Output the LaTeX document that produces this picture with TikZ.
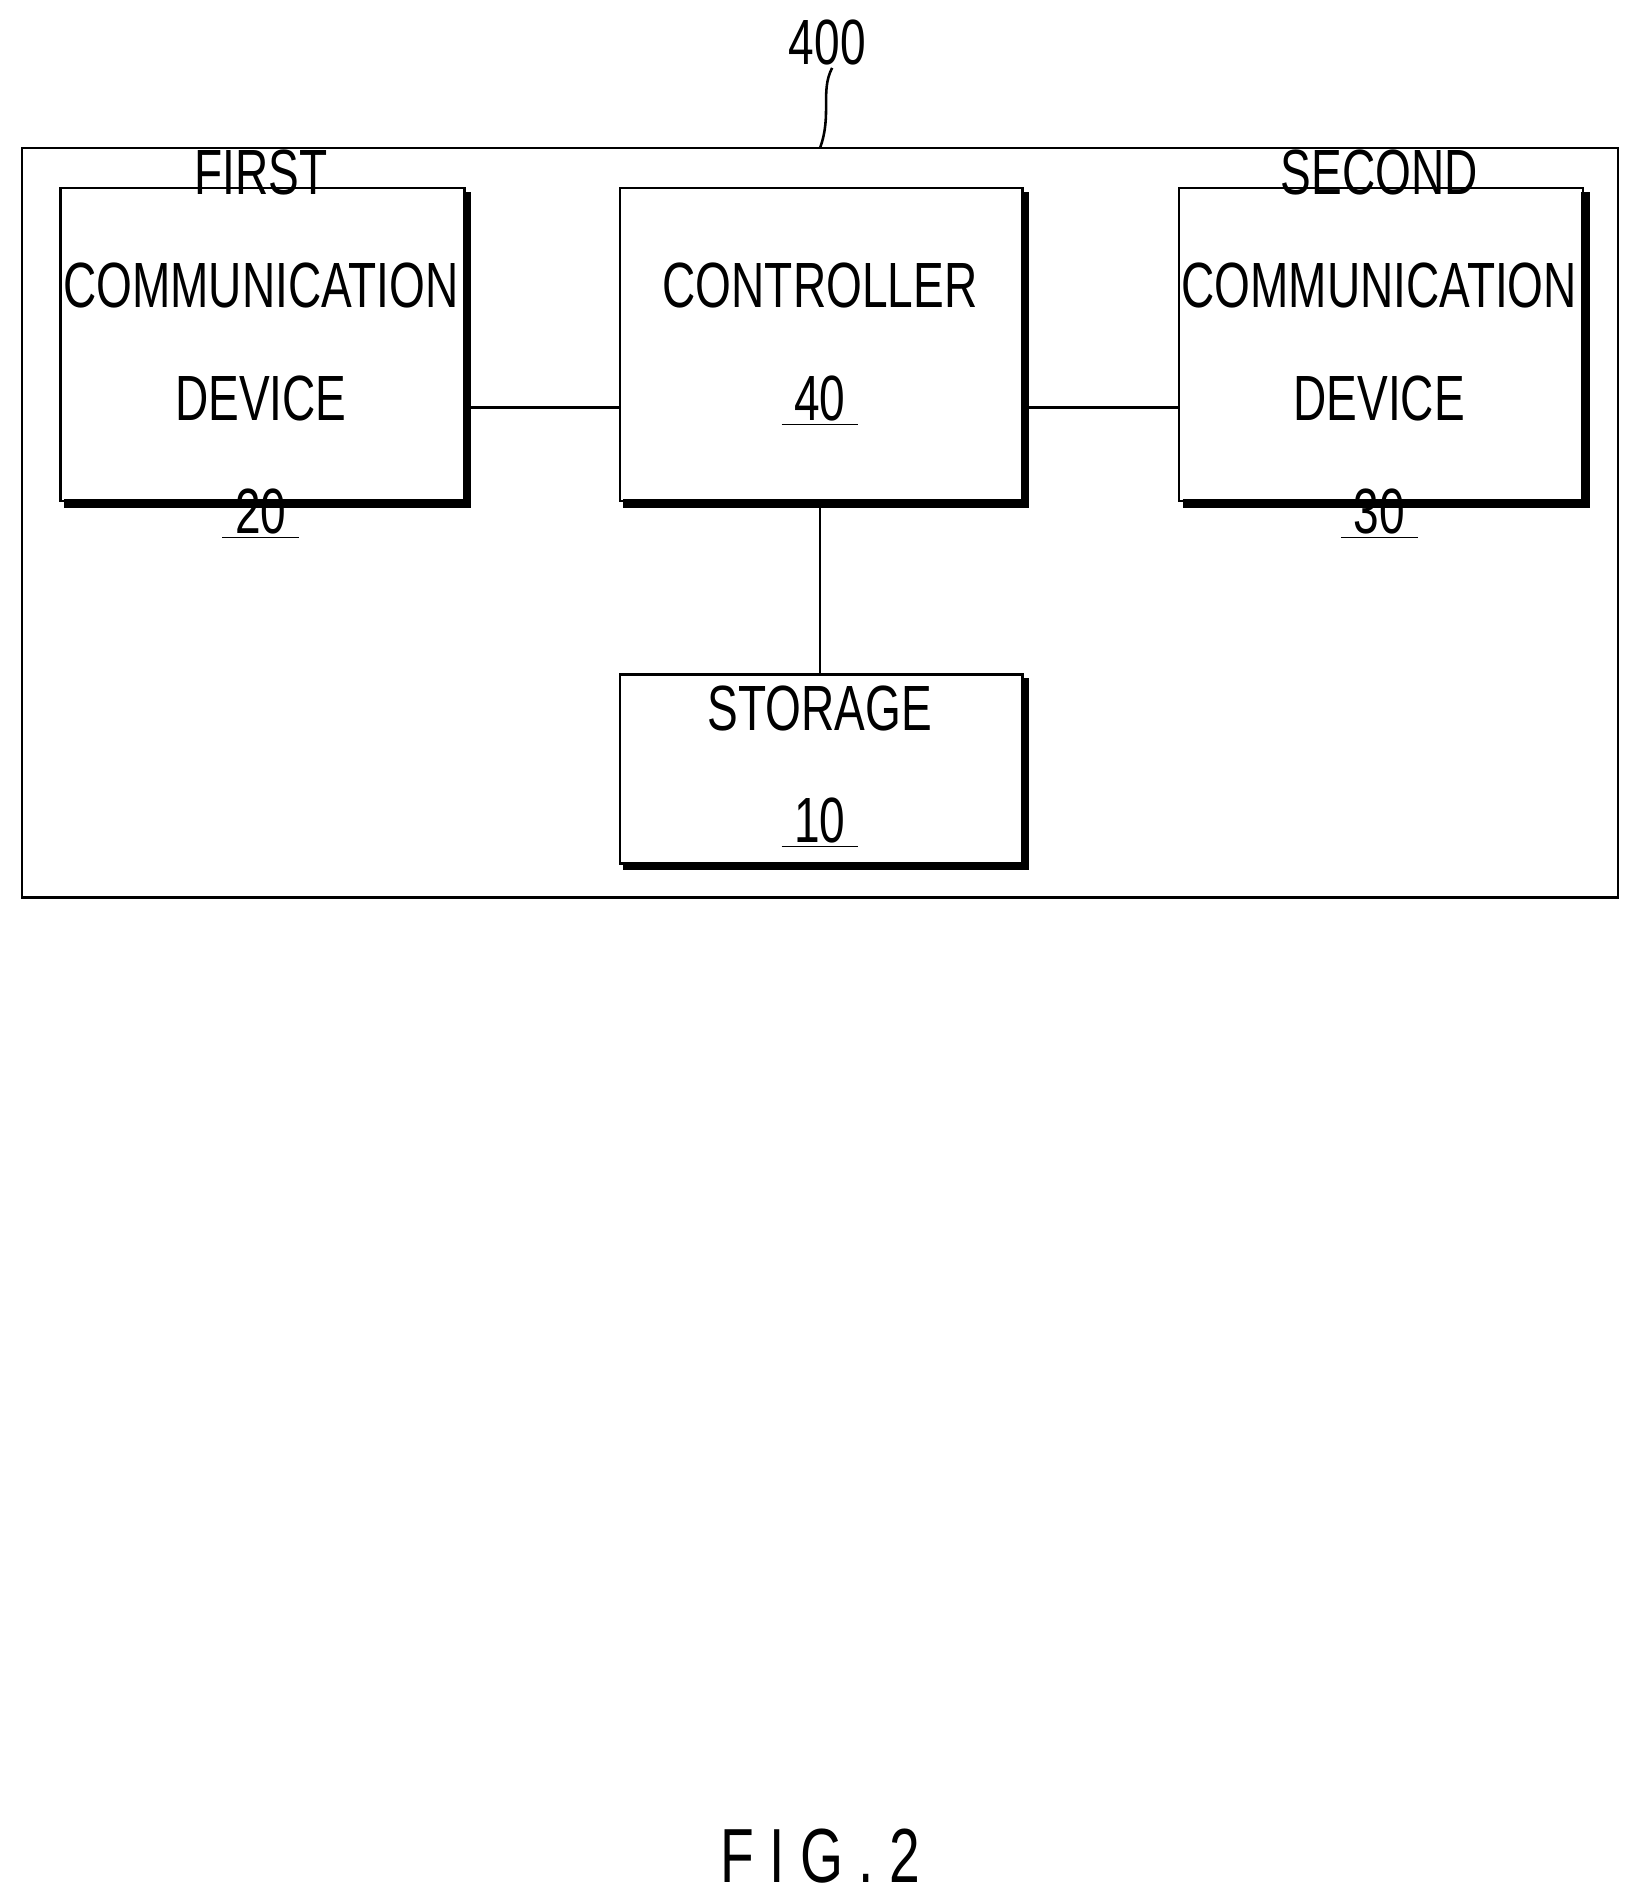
\documentclass[tikz,border=0pt]{standalone}
\usepackage{fontspec}
\setmainfont{Liberation Sans}[FakeStretch=0.72]
\begin{document}
\begin{tikzpicture}[x=0.02cm,y=-0.02cm,
  blk/.style={draw,line width=1.2pt,minimum width=332\pgflinewidth,align=center,font=\fontsize{30}{44}\selectfont},
  lbl/.style={font=\fontsize{30}{36}\selectfont}]
\useasboundingbox (0,0) rectangle (1352,1568);
\newcommand{\shbox}[5]{%
  \draw[line width=1.2pt] (#1,#2) rectangle (#3,#4);
  \draw[line width=4pt] (#1+3,#4+2) -- (#3+2,#4+2) -- (#3+2,#2+3);
  \node[align=center,font=\fontsize{30}{53}\selectfont] (#5) at ({(#1+#3)/2},{(#2+#4)/2}) {};}
\draw[line width=1.2pt] (18,122) rectangle (1334,740);
\shbox{50}{155}{383}{413}{f}
\shbox{511}{155}{843}{413}{c}
\shbox{972}{155}{1305}{413}{s}
\shbox{511}{556}{843}{712}{st}
\node[align=center,font=\fontsize{30}{53}\selectfont] at (215,284) {FIRST\\COMMUNICATION\\DEVICE\\\underline{\ 20\ }};
\node[align=center,font=\fontsize{30}{53}\selectfont] at (676,284) {CONTROLLER\\\underline{\ 40\ }};
\node[align=center,font=\fontsize{30}{53}\selectfont] at (1137,284) {SECOND\\COMMUNICATION\\DEVICE\\\underline{\ 30\ }};
\node[align=center,font=\fontsize{30}{53}\selectfont] at (676,632) {STORAGE\\\underline{\ 10\ }};
\coordinate (fr) at (383,336); \coordinate (cl) at (511,336);
\coordinate (cr) at (843,336); \coordinate (sl) at (972,336);
\coordinate (cb) at (676,413); \coordinate (stt) at (676,556);
\draw[line width=1.2pt] (fr) -- (cl); \draw[line width=1.2pt] (cr) -- (sl);
\draw[line width=1.2pt] (cb) -- (stt);
\node[lbl] (n400) at (682,35) {400};
\coordinate (top) at (676,122);
\draw[line width=1.2pt] (686,56) .. controls (676,75) and (686,95) .. (top);
\node[font=\fontsize{36}{40}\selectfont] (fig) at (676,1530) {F I G . 2};
\end{tikzpicture}
\end{document}
